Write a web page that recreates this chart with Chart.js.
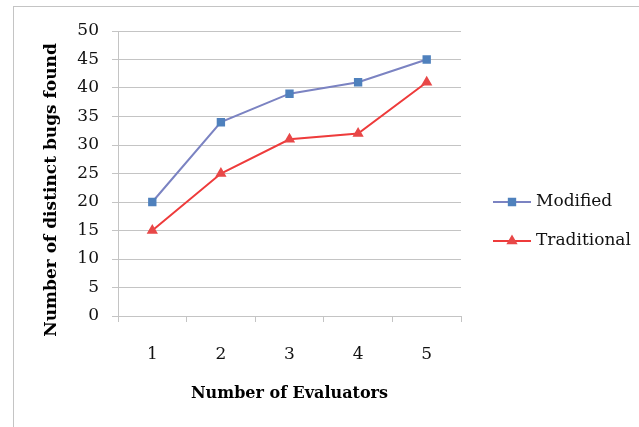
<!DOCTYPE html>
<html>
<head>
<meta charset="utf-8">
<script src="https://cdn.jsdelivr.net/npm/chart.js@4.4.1/dist/chart.umd.min.js"></script>
<style>
  html, body { margin: 0; padding: 0; background: #fff; overflow: hidden; }
  #wrap { position: relative; width: 639px; height: 427px; }
  #frame { position: absolute; left: 13px; top: 6px; width: 700px; height: 500px; border: 1px solid #c4c4c4; }
  canvas { position: absolute; left: 0; top: 0; }
</style>
</head>
<body>
<div id="wrap">
  <div id="frame"></div>
  <canvas id="bugs-chart" width="639" height="427"></canvas>
</div>
<script>
const categories = ["1", "2", "3", "4", "5"];
const modified = [20, 34, 39, 41, 45];
const traditional = [15, 25, 31, 32, 41];

const FONT = "'DejaVu Serif', serif";
const GRID = "#c4c4c4";

// y title + legend drawn by hand, Excel style
const extras = {
  id: "extras",
  afterDraw(chart) {
    const ctx = chart.ctx;
    ctx.save();
    ctx.fillStyle = "#000";
    ctx.font = "bold 17px " + FONT;
    ctx.textAlign = "center";
    ctx.textBaseline = "middle";
    ctx.translate(52, 190);
    ctx.rotate(-Math.PI / 2);
    ctx.fillText("Number of distinct bugs found", 0, 0);
    ctx.restore();

    ctx.save();
    chart.data.datasets.forEach((ds, i) => {
      const y = 202 + i * 39;
      ctx.strokeStyle = ds.borderColor;
      ctx.lineWidth = 2;
      ctx.beginPath();
      ctx.moveTo(493, y);
      ctx.lineTo(531, y);
      ctx.stroke();
      ctx.fillStyle = ds.pointBackgroundColor;
      ctx.strokeStyle = ds.pointBorderColor;
      Chart.helpers.drawPoint(ctx, { pointStyle: ds.pointStyle, radius: ds.pointRadius, borderWidth: 1, rotation: 0 }, 512, y);
      ctx.fillStyle = "#111";
      ctx.font = "17px " + FONT;
      ctx.textAlign = "left";
      ctx.textBaseline = "middle";
      ctx.fillText(ds.label, 536, y);
    });
    ctx.restore();
  },
};

const chart = new Chart("bugs-chart", {
  type: "line",
  data: {
    labels: categories,
    datasets: [
      {
        label: "Modified",
        data: modified,
        borderColor: "#7b83c2",
        borderWidth: 2,
        pointStyle: "rect",
        pointRadius: 4.5,
        pointBackgroundColor: "#4f81bd",
        pointBorderColor: "#4f81bd",
        tension: 0,
      },
      {
        label: "Traditional",
        data: traditional,
        borderColor: "#ee3b3b",
        borderWidth: 2,
        pointStyle: "triangle",
        pointRadius: 4.5,
        pointBackgroundColor: "#e84848",
        pointBorderColor: "#e84848",
        tension: 0,
      },
    ],
  },
  options: {
    responsive: false,
    animation: false,
    layout: { padding: { left: 0, top: 31, right: 178, bottom: 24 } },
    plugins: { legend: { display: false }, tooltip: { enabled: false } },
    scales: {
      x: {
        offset: true,
        grid: { offset: true, drawOnChartArea: false, color: GRID, tickLength: 6 },
        border: { color: GRID },
        ticks: { color: "#111", font: { family: FONT, size: 17 }, padding: 22 },
        title: {
          display: true,
          text: "Number of Evaluators",
          color: "#000",
          font: { family: FONT, size: 16, weight: "bold" },
          padding: 0,
        },
        afterFit(scale) {
          scale.height = 87;
        },
      },
      y: {
        min: 0,
        max: 50,
        grid: { color: GRID, tickLength: 6 },
        border: { color: GRID },
        ticks: { stepSize: 5, color: "#111", font: { family: FONT, size: 17 }, padding: 13 },
        afterFit(scale) {
          scale.width = 118;
        },
      },
    },
  },
  plugins: [extras],
});
</script>
</body>
</html>
